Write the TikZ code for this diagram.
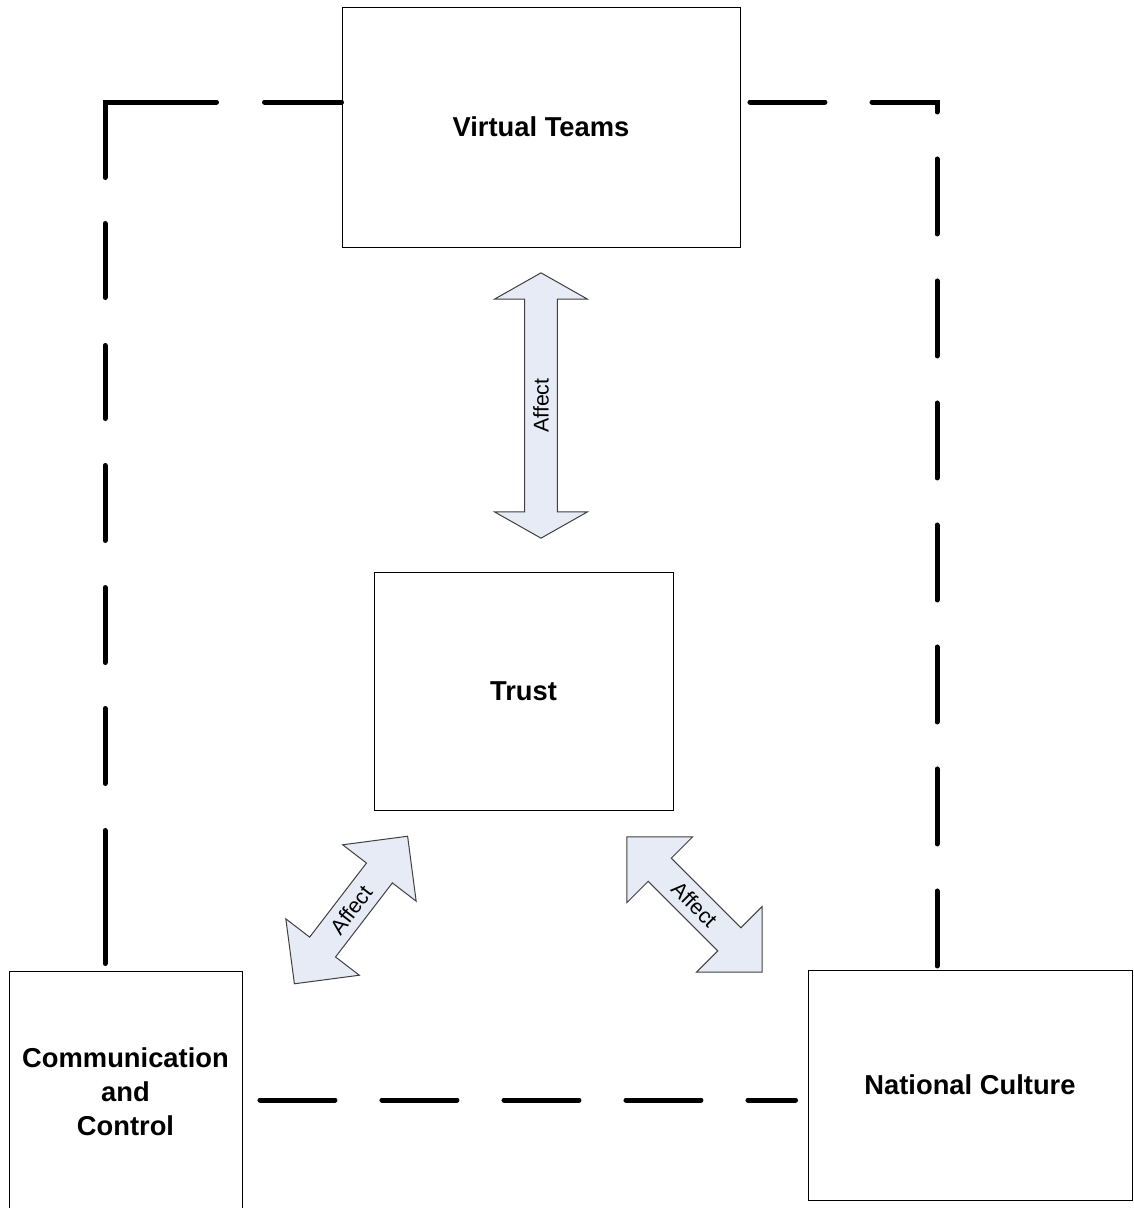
\documentclass[tikz,border=0pt]{standalone}
\usepackage{fontspec}
\setmainfont{Liberation Sans}
\usepackage{xcolor}
\usetikzlibrary{shapes.arrows}
\definecolor{arrowfill}{RGB}{231,235,245}
\tikzset{
	box/.style = {
			draw, line width=0.75pt,
			font=\bfseries\fontsize{20.5}{25.5}\selectfont,
			align=center, inner sep=0pt,
		},
	link/.style = {line width=3.75pt, line cap=round},
	affect/.style = {
			double arrow,
			draw=black!75, fill=arrowfill, line width=0.75pt,
			font=\fontsize{16}{19}\selectfont,
			inner sep=6pt,
			minimum width=69pt,
			double arrow head extend=22.5pt,
		}
}

\begin{document}
\begin{tikzpicture}[x=0.75pt,y=-0.75pt]
	\useasboundingbox (0,0) rectangle (1133,1208);

	% boxes
	\node[box, minimum width=298.5pt, minimum height=180pt] (vt) at (541,127) {Virtual Teams};
	\node[box, minimum width=224.25pt, minimum height=178.5pt] (trust) at (523.5,691) {Trust};
	\node[box, minimum width=174.75pt, minimum height=180.75pt] (cc) at (125.5,1091.5) {Communication\\and\\Control};
	\node[box, minimum width=243pt, minimum height=172.5pt] (nc) at (970,1085) {National Culture};

	% corners of the dashed links
	\coordinate (cl) at (105,102);
	\coordinate (cr) at (937,102);
	\coordinate (cb) at (500,1100);

	\draw[link, dash pattern=on 57.75pt off 36pt on 140.25pt off 34.5pt on 55.5pt off 36pt on 54.75pt off 35.25pt on 56.25pt off 35.25pt on 56.25pt off 34.5pt on 56.25pt off 35.25pt on 99.75pt off 37.5pt]
		(cl -| vt.west) -- (cl) -- (cl |- cc.north);
	\draw[link, dash pattern=on 56.25pt off 35.25pt, dash phase=84.4pt]
		(cr -| vt.east) -- (cr) -- (cr |- nc.north);
	\draw[link, dash pattern=on 56.25pt off 35.25pt, dash phase=78.4pt, shorten >=9pt]
		(cb -| cc.east) -- (cb -| nc.west);

	% affect arrows
	\node[affect, rotate=90, minimum height=199pt, double arrow tip angle=121] (a1) at (541,405.5) {Affect};
	\node[affect, rotate=52.5, minimum height=139.5pt, double arrow tip angle=90] (a2) at (351,910) {Affect};
	\node[affect, rotate=-45, minimum height=143.25pt, double arrow tip angle=90] (a3) at (694.5,904.5) {Affect};
\end{tikzpicture}
\end{document}
